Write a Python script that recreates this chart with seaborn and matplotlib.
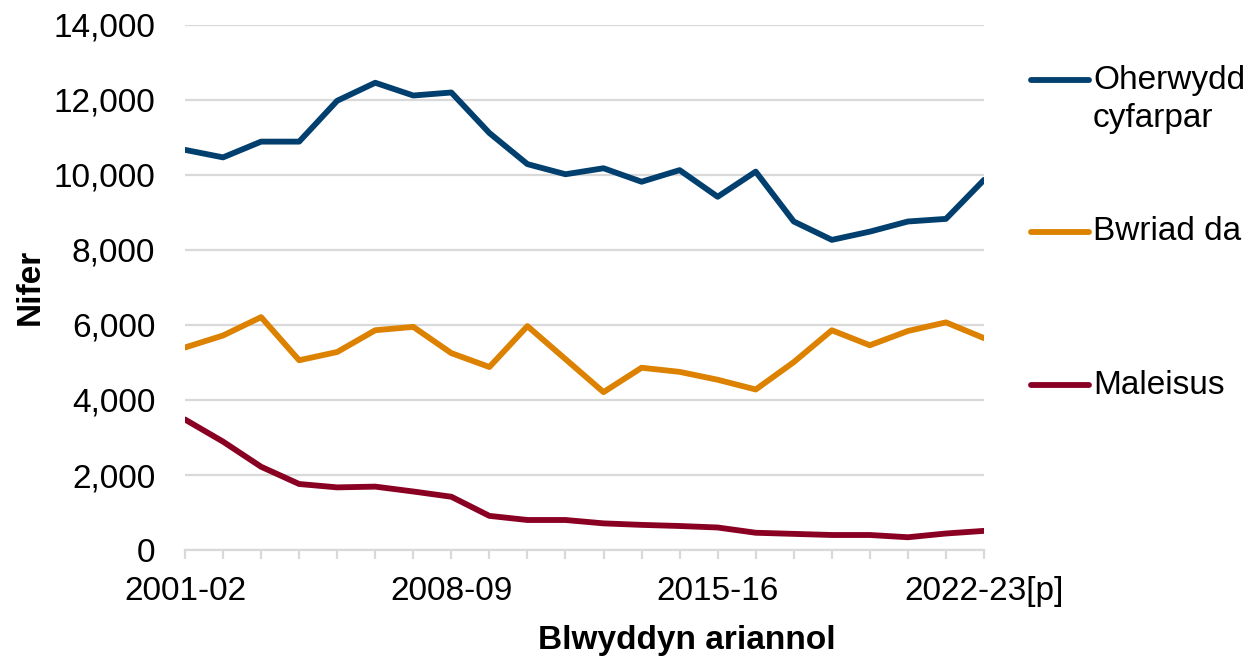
import matplotlib
matplotlib.use("Agg")
import matplotlib.pyplot as plt
from matplotlib.lines import Line2D
import seaborn as sns
import pandas as pd
import numpy as np

years = ["2001-02", "2002-03", "2003-04", "2004-05", "2005-06", "2006-07",
         "2007-08", "2008-09", "2009-10", "2010-11", "2011-12", "2012-13",
         "2013-14", "2014-15", "2015-16", "2016-17", "2017-18", "2018-19",
         "2019-20", "2020-21", "2021-22", "2022-23[p]"]

oherwydd = [10670, 10470, 10890, 10890, 11980, 12460, 12120, 12200, 11120, 10290,
            10020, 10180, 9820, 10130, 9420, 10090, 8760, 8270, 8490, 8760, 8830, 9870]
bwriad = [5400, 5720, 6210, 5060, 5280, 5860, 5950, 5250, 4880, 5970,
          5090, 4210, 4860, 4750, 4540, 4280, 5010, 5860, 5460, 5840, 6070, 5650]
maleisus = [3480, 2890, 2220, 1760, 1670, 1690, 1560, 1420, 910, 800,
            800, 710, 670, 640, 600, 460, 430, 400, 400, 340, 440, 510]

series_names = ["Oherwydd\ncyfarpar", "Bwriad da", "Maleisus"]
colors = ["#003F6E", "#DC8100", "#8A0022"]

df = pd.concat([
    pd.DataFrame({"idx": range(len(years)), "value": vals, "series": name})
    for name, vals in zip(series_names, [oherwydd, bwriad, maleisus])
])

sns.set_theme(style="white")
plt.rcParams["font.family"] = ["Liberation Sans", "DejaVu Sans"]
plt.rcParams["text.color"] = "black"
plt.rcParams["xtick.color"] = "black"
plt.rcParams["ytick.color"] = "black"

FS = 24
LW = 4.2
fig = plt.figure(figsize=(12.58, 6.64), dpi=100)
ax = fig.add_axes([185 / 1258, 1 - 550 / 664, (984 - 185) / 1258, (550 - 25) / 664])

sns.lineplot(data=df, x="idx", y="value", hue="series", palette=colors,
             linewidth=LW, ax=ax, legend=False, solid_capstyle="round",
             solid_joinstyle="round")

ax.set_xlim(0, len(years) - 1)
ax.set_ylim(0, 14000)
ax.set_yticks(np.arange(0, 14001, 2000))
ax.set_yticklabels([f"{v:,}" for v in range(0, 14001, 2000)], fontsize=FS, color="black")
ax.yaxis.grid(True, color="#D9D9D9", linewidth=1.6)
ax.xaxis.grid(False)
ax.set_axisbelow(True)

ax.set_xticks(range(len(years)))
ax.set_xticklabels([y if i % 7 == 0 else "" for i, y in enumerate(years)],
                   fontsize=FS, color="black")
ax.tick_params(axis="x", which="major", length=6.5, width=1.6, color="#D9D9D9",
               labelcolor="black", pad=12, bottom=True, direction="out")
ax.tick_params(axis="y", length=0, pad=21.5, labelcolor="black")

for s in ["top", "right", "left"]:
    ax.spines[s].set_visible(False)
ax.spines["bottom"].set_color("#D9D9D9")
ax.spines["bottom"].set_linewidth(1.6)

ax.set_xlabel("")
ax.set_ylabel("")
fig.text(30 / 1258, 1 - 287 / 664, "Nifer", fontsize=FS, fontweight="bold",
         rotation=90, ha="center", va="center", color="black")
fig.text(687 / 1258, 1 - 640 / 664, "Blwyddyn ariannol", fontsize=FS,
         fontweight="bold", ha="center", va="center", color="black")

# Legend (manual, to align handle with first text line)
leg_y = [80, 232, 385]
for name, col, yy in zip(series_names, colors, leg_y):
    yf = 1 - yy / 664
    fig.add_artist(Line2D([1031 / 1258, 1089 / 1258], [yf, yf], color=col,
                          linewidth=LW, solid_capstyle="round"))
    first, *rest = name.split("\n")
    fig.text(1093 / 1258, yf, first, fontsize=FS, ha="left", va="center", color="black")
    for k, r in enumerate(rest):
        fig.text(1093 / 1258, 1 - (yy + 38 * (k + 1)) / 664, r, fontsize=FS,
                 ha="left", va="center", color="black")

fig.savefig("out.png", dpi=100)
